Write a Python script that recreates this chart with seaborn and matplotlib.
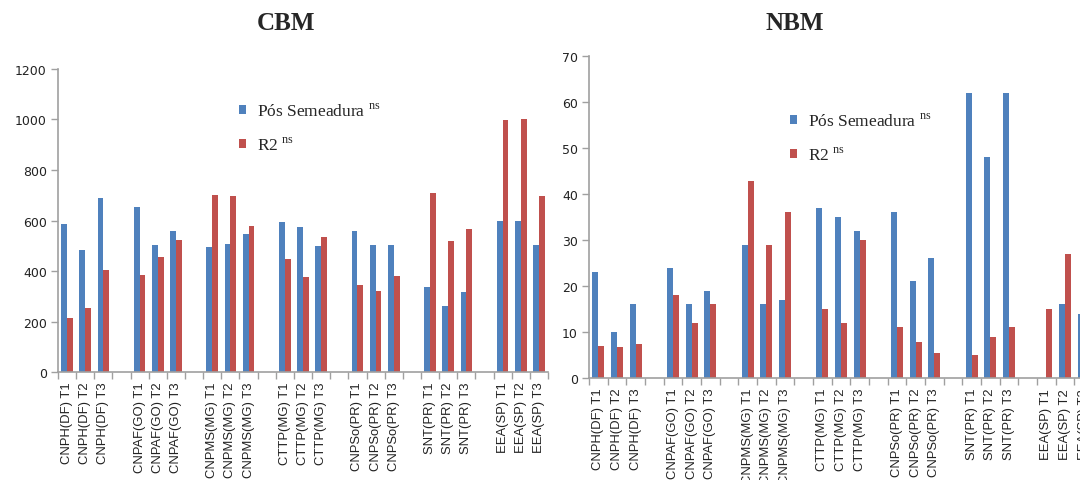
import pandas as pd
import matplotlib
matplotlib.use("Agg")
import matplotlib.pyplot as plt
import seaborn as sns

# ======================================
# Data
# ======================================

groups = ["CNPH(DF)", "CNPAF(GO)", "CNPMS(MG)", "CTTP(MG)",
          "CNPSo(PR)", "SNT(PR)", "EEA(SP)"]
treatments = ["T1", "T2", "T3"]

series_names = ["Pós Semeadura $^{\\mathrm{ns}}$", "R2 $^{\\mathrm{ns}}$"]
colors = ["#4F81BD", "#C0504D"]

# CBM
cbm_pos = [585, 483, 688, 655, 503, 560, 495, 507, 548,
           593, 576, 501, 558, 503, 503, 338, 261, 317,
           599, 597, 503]
cbm_r2 = [213, 255, 405, 385, 455, 523, 700, 697, 580,
          447, 376, 535, 346, 320, 381, 709, 519, 566,
          999, 1003, 697]

# NBM
nbm_pos = [23, 10, 16, 24, 16, 19, 29, 16, 17,
           37, 35, 32, 36, 21, 26, 62, 48, 62,
           0, 16, 14]
nbm_r2 = [7, 6.8, 7.3, 18, 12, 16, 42.8, 29, 36,
          15, 12, 30, 11, 7.8, 5.5, 5, 9, 11,
          15, 27, 7.4]

# ======================================
# Build category slots (3 treatments + blank gap per group)
# ======================================

cats = []
order = []
tick_labels = []
for i, g in enumerate(groups):
    for t in treatments:
        cats.append(f"{g} {t}")
        order.append(f"{g} {t}")
        tick_labels.append(f"{g} {t}")
    if i < len(groups) - 1:
        order.append(" " * (i + 1))
        tick_labels.append("")


def long_table(pos, r2):
    return pd.DataFrame({
        "slot": cats * 2,
        "serie": [series_names[0]] * len(cats) + [series_names[1]] * len(cats),
        "value": pos + r2,
    })


cbm_df = long_table(cbm_pos, cbm_r2)
nbm_df = long_table(nbm_pos, nbm_r2)

# ======================================
# Style
# ======================================

sns.set_theme(style="white")
plt.rcParams["font.family"] = ["DejaVu Sans"]
plt.rcParams["mathtext.fontset"] = "custom"
plt.rcParams["mathtext.rm"] = "Liberation Serif"

fig = plt.figure(figsize=(10.8, 4.81), dpi=100)
ax1 = fig.add_axes([0.0537, 0.2245, 0.4537, 0.630])
ax2 = fig.add_axes([0.5454, 0.212, 0.4666, 0.6695])

panels = [
    (ax1, cbm_df, 1200, 200, (0.2215, 0.785)),
    (ax2, nbm_df, 70, 10, (0.7315, 0.765)),
]

for ax, df, ymax, ystep, leg_pos in panels:
    sns.barplot(
        data=df, x="slot", y="value", hue="serie",
        order=order, hue_order=series_names,
        palette=colors, width=0.64, errorbar=None,
        saturation=1, linewidth=0, ax=ax
    )
    ax.set_xlim(-0.5, len(order) - 0.5)
    ax.set_ylim(0, ymax)
    ax.set_yticks(range(0, ymax + 1, ystep))
    ax.set_xticks(range(len(order)))
    ax.set_xticklabels(tick_labels, rotation=90,
                       family="Liberation Sans", fontsize=9.4,
                       color="#222222")
    ax.set_xticks([k - 0.5 for k in range(len(order) + 1)], minor=True)
    ax.tick_params(axis="x", which="major", length=0, pad=7)
    ax.tick_params(axis="x", which="minor", length=5, width=1,
                   color="#A0A0A0", direction="out", bottom=True)
    ax.tick_params(axis="y", length=5, width=1, color="#A0A0A0",
                   direction="out", left=True, labelsize=9,
                   labelcolor="#222222", pad=3)
    ax.set_xlabel("")
    ax.set_ylabel("")
    for side in ["top", "right"]:
        ax.spines[side].set_visible(False)
    for side in ["left", "bottom"]:
        ax.spines[side].set_color("#A0A0A0")
        ax.spines[side].set_linewidth(1.2)

    sns.move_legend(
        ax, loc="upper left",
        bbox_to_anchor=leg_pos, bbox_transform=fig.transFigure,
        frameon=False, title=None,
        prop={"family": "Liberation Serif", "size": 12.5},
        handlelength=0.4, handleheight=0.4, handletextpad=0.65,
        labelspacing=0.95, borderpad=0, borderaxespad=0
    )

fig.text(286 / 1080, 1 - 23 / 481, "CBM", ha="center", va="center",
         family="Liberation Serif", fontweight="bold", fontsize=18)
fig.text(795 / 1080, 1 - 23 / 481, "NBM", ha="center", va="center",
         family="Liberation Serif", fontweight="bold", fontsize=18)

plt.savefig("out.png", dpi=100)
